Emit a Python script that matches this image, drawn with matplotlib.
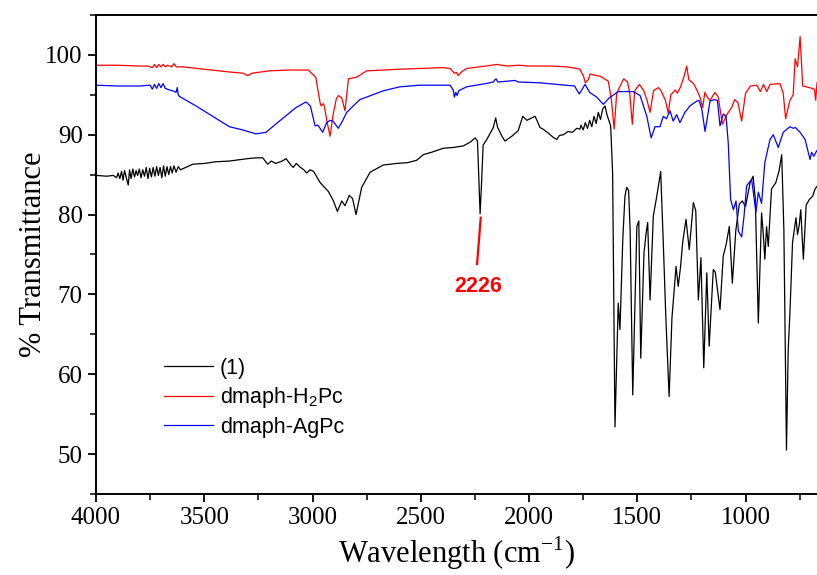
import matplotlib
matplotlib.use("Agg")
import matplotlib.pyplot as plt
from matplotlib.ticker import MultipleLocator

plt.rcParams["font.family"] = "Liberation Serif"
plt.rcParams["mathtext.fontset"] = "custom"
plt.rcParams["mathtext.rm"] = "Liberation Serif"
plt.rcParams["mathtext.sf"] = "Liberation Sans"

# ---- compound (1) --------------------------------------------------------
wn_1 = [4000, 3950, 3920, 3905, 3898, 3890, 3882, 3875, 3868, 3860, 3851, 3845,
        3838, 3830, 3822, 3815, 3808, 3800, 3792, 3784, 3776, 3768, 3760, 3752,
        3744, 3736, 3728, 3720, 3712, 3704, 3696, 3688, 3680, 3672, 3664, 3656,
        3648, 3640, 3630, 3620, 3610, 3553, 3500, 3450, 3384, 3300, 3261, 3230,
        3207, 3190, 3170, 3140, 3122, 3100, 3089, 3075, 3060, 3040, 3027, 3012,
        2995, 2965, 2927, 2905, 2885, 2865, 2850, 2830, 2815, 2799, 2773, 2734,
        2673, 2611, 2560, 2519, 2488, 2450, 2396, 2350, 2303, 2270, 2249, 2238,
        2230, 2226, 2220, 2212, 2195, 2165, 2154, 2145, 2125, 2111, 2080, 2050,
        2029, 2010, 1995, 1972, 1949, 1930, 1911, 1890, 1872, 1860, 1841, 1820,
        1800, 1780, 1765, 1760, 1750, 1740, 1730, 1720, 1710, 1700, 1690, 1680,
        1670, 1660, 1649, 1640, 1623, 1614, 1603, 1588, 1580, 1567, 1557, 1549,
        1540, 1533, 1521, 1502, 1493, 1484, 1469, 1460, 1452, 1441, 1426, 1410,
        1392, 1380, 1368, 1353, 1340, 1321, 1311, 1300, 1290, 1275, 1260, 1241,
        1230, 1218, 1206, 1193, 1179, 1168, 1149, 1140, 1118, 1103, 1090, 1075,
        1061, 1045, 1029, 1015, 1000, 979, 965, 955, 941, 926, 918, 911, 903, 895,
        880, 860, 845, 833, 823, 817, 811, 803, 795, 783, 767, 760, 752, 745, 733,
        720, 705, 690, 679, 671]
t_1 = [84.9, 84.8, 84.9, 84.6, 85.2, 84.5, 85.4, 84.3, 85.5, 84.6, 83.7, 85.6,
       84.5, 85.7, 84.7, 85.5, 84.9, 85.7, 84.6, 85.6, 84.8, 85.9, 84.5, 85.8,
       84.7, 85.9, 84.8, 86.0, 84.9, 85.9, 84.6, 86.1, 84.8, 86.0, 85.0, 86.0,
       85.2, 86.1, 85.3, 86.0, 85.6, 86.3, 86.4, 86.6, 86.7, 87.0, 87.1, 87.1,
       86.3, 86.7, 86.4, 86.7, 87.0, 86.2, 85.9, 86.4, 86.0, 85.6, 85.2, 85.6,
       85.4, 84.0, 82.9, 81.8, 80.4, 81.7, 81.1, 82.4, 82.0, 80.0, 83.4, 85.3,
       86.2, 86.4, 86.5, 86.8, 87.5, 87.8, 88.3, 88.4, 88.6, 89.1, 89.6, 89.2,
       83.0, 80.1, 83.5, 88.7, 89.4, 90.9, 92.1, 90.9, 89.8, 89.2, 89.8, 90.5,
       92.3, 91.8, 92.0, 92.3, 90.9, 90.6, 90.2, 89.7, 89.4, 89.9, 90.0, 90.4,
       90.3, 90.8, 90.7, 91.2, 90.6, 91.5, 90.8, 91.8, 91.0, 92.3, 91.4, 92.8,
       91.9, 93.2, 93.6, 92.5, 91.1, 85.2, 53.4, 68.9, 65.6, 76.9, 82.3, 83.4,
       83.0, 78.0, 57.4, 78.5, 79.2, 62.0, 75.2, 77.5, 79.0, 69.3, 79.8, 82.3,
       85.4, 76.5, 67.0, 57.2, 67.0, 73.5, 71.0, 73.5, 76.6, 79.4, 75.6, 81.5,
       80.5, 69.3, 74.6, 60.8, 72.7, 63.5, 73.1, 72.8, 68.1, 74.8, 76.2, 78.5,
       71.4, 78.0, 81.3, 81.7, 81.0, 84.0, 84.8, 82.0, 66.4, 80.2, 77.5, 74.4,
       78.5, 76.0, 83.2, 84.0, 85.5, 87.5, 78.1, 63.9, 50.5, 63.1, 67.7, 76.5,
       79.6, 77.5, 78.7, 80.6, 74.4, 81.2, 81.9, 82.3, 83.2, 83.5]

# ---- dmaph-H2Pc ----------------------------------------------------------
wn_h2 = [4000, 3900, 3800, 3760, 3740, 3730, 3720, 3710, 3700, 3690, 3680, 3670,
         3650, 3640, 3630, 3600, 3500, 3400, 3320, 3300, 3280, 3200, 3100, 3020,
         2985, 2965, 2960, 2950, 2945, 2932, 2919, 2905, 2890, 2880, 2865, 2850,
         2840, 2834, 2796, 2750, 2600, 2500, 2400, 2365, 2345, 2335, 2327, 2310,
         2288, 2200, 2149, 2100, 2050, 2000, 1900, 1826, 1780, 1765, 1748, 1740,
         1726, 1718, 1670, 1634, 1620, 1607, 1595, 1563, 1545, 1535, 1523, 1512,
         1490, 1470, 1455, 1441, 1425, 1403, 1390, 1370, 1357, 1345, 1325, 1315,
         1300, 1283, 1272, 1262, 1240, 1225, 1210, 1198, 1188, 1177, 1164, 1141,
         1126, 1107, 1087, 1064, 1050, 1035, 1018, 1000, 977, 948, 932, 917, 902,
         887, 841, 826, 815, 795, 780, 771, 760, 748, 736, 705, 682, 676, 670]
t_h2 = [98.7, 98.7, 98.6, 98.6, 98.4, 98.8, 98.4, 98.8, 98.5, 98.8, 98.5, 98.7,
        98.5, 98.9, 98.5, 98.5, 98.2, 97.9, 97.7, 97.4, 97.7, 98.0, 98.1, 98.1,
        97.2, 94.0, 93.6, 93.9, 93.5, 91.5, 89.8, 92.5, 94.5, 94.9, 94.6, 93.0,
        95.5, 97.0, 97.2, 98.0, 98.2, 98.3, 98.4, 98.3, 97.7, 97.8, 97.4, 97.9,
        98.3, 98.6, 98.8, 98.6, 98.7, 98.6, 98.6, 98.5, 98.3, 98.2, 97.3, 96.5,
        96.9, 97.6, 97.3, 96.7, 94.5, 90.7, 95.2, 97.0, 96.6, 95.2, 91.3, 95.5,
        96.3, 95.5, 94.3, 92.8, 95.5, 95.9, 95.5, 94.3, 92.7, 95.0, 95.6, 95.2,
        96.0, 97.4, 98.6, 96.9, 96.4, 95.6, 94.7, 93.4, 95.3, 94.7, 94.3, 95.3,
        94.7, 91.3, 92.5, 93.4, 94.4, 94.0, 91.7, 95.2, 96.1, 96.2, 95.4, 96.3,
        95.4, 96.3, 96.4, 95.2, 92.0, 94.3, 95.0, 99.5, 98.5, 102.3, 96.1, 95.9,
        95.7, 94.3, 96.5]

# ---- dmaph-AgPc ----------------------------------------------------------
wn_ag = [4000, 3900, 3800, 3750, 3740, 3730, 3720, 3710, 3700, 3690, 3680, 3660,
         3646, 3630, 3625, 3620, 3615, 3538, 3461, 3384, 3323, 3261, 3215, 3153,
         3076, 3030, 3010, 2988, 2975, 2953, 2935, 2919, 2905, 2881, 2860, 2842,
         2781, 2673, 2596, 2504, 2365, 2350, 2345, 2338, 2332, 2325, 2288, 2200,
         2165, 2157, 2152, 2145, 2100, 2065, 2050, 1950, 1790, 1768, 1741, 1720,
         1687, 1657, 1630, 1588, 1518, 1487, 1456, 1436, 1418, 1395, 1380, 1365,
         1349, 1334, 1318, 1303, 1280, 1257, 1226, 1215, 1202, 1187, 1164, 1145,
         1130, 1118, 1103, 1090, 1080, 1069, 1056, 1044, 1033, 1018, 1007, 995,
         972, 952, 941, 926, 911, 887, 872, 849, 826, 795, 780, 770, 748, 725,
         702, 695, 685, 671]
t_ag = [96.2, 96.1, 96.1, 96.2, 95.7, 96.3, 95.8, 96.4, 95.9, 96.4, 95.8, 95.6,
        95.5, 95.3, 95.9, 95.0, 94.8, 93.6, 92.3, 91.0, 90.6, 90.1, 90.3, 91.7,
        93.4, 94.1, 93.6, 91.1, 91.2, 90.3, 91.5, 91.8, 91.7, 90.8, 91.8, 92.8,
        94.4, 95.5, 96.0, 96.2, 96.2, 95.6, 94.7, 95.3, 94.9, 95.5, 96.0, 96.4,
        96.6, 96.9, 97.0, 96.6, 96.7, 96.8, 96.6, 96.5, 96.1, 95.1, 96.3, 95.3,
        94.7, 93.8, 94.6, 95.4, 95.4, 94.9, 92.3, 89.6, 91.0, 91.0, 92.3, 92.0,
        93.0, 91.7, 92.5, 91.5, 92.8, 93.6, 94.2, 94.3, 93.2, 90.4, 94.2, 94.4,
        94.3, 91.1, 92.6, 92.3, 89.0, 81.9, 80.6, 81.7, 77.9, 77.2, 79.8, 83.6,
        84.4, 80.3, 82.8, 81.4, 86.5, 89.4, 90.0, 88.4, 90.3, 91.0, 90.8, 90.9,
        90.3, 89.4, 86.9, 87.8, 87.3, 88.0]

peak_wn = 2226
peak_label = "2226"

fig = plt.figure(figsize=(8.17, 5.75), dpi=100)
ax = fig.add_axes([0.1175, 0.141, 0.8825, 0.833])

ax.plot(wn_1, t_1, color="black", lw=0.9, label="(1)")
ax.plot(wn_h2, t_h2, color="#ff0000", lw=0.9, label="dmaph-H$_\\mathsf{2}$Pc")
ax.plot(wn_ag, t_ag, color="#0000ff", lw=0.9, label="dmaph-AgPc")

# marker for the nitrile band
ax.plot([peak_wn - 3, peak_wn + 14], [79.6, 73.8], color="#ff0000", lw=1.6)
ax.text(peak_wn + 11, 70.26, peak_label, color="#ff0000", fontsize=15.5,
        fontweight="bold", family="Liberation Sans", ha="center", va="baseline")

ax.set_xlim(4000, 670)
ax.set_ylim(45, 105)
ax.xaxis.set_major_locator(MultipleLocator(500))
ax.xaxis.set_minor_locator(MultipleLocator(250))
ax.yaxis.set_major_locator(MultipleLocator(10))
ax.yaxis.set_minor_locator(MultipleLocator(5))
ax.tick_params(which="major", direction="out", length=6, width=1.3, labelsize=18)
ax.tick_params(which="minor", direction="out", length=4, width=1.1)
for s in ["left", "bottom", "top"]:
    ax.spines[s].set_linewidth(1.4)
ax.spines["right"].set_visible(False)

ax.set_xlabel("Wavelength (cm$^{\\mathrm{-1}}$)", fontsize=22, labelpad=4)
ax.set_ylabel("% Transmittance", fontsize=22, labelpad=-2)

ax.legend(loc="upper left", bbox_to_anchor=(0.082, 0.302), frameon=False,
          prop={"family": "Liberation Sans", "size": 15.5}, handlelength=2.3,
          handletextpad=0.3, labelspacing=0.3, borderaxespad=0)

fig.savefig("out.png", dpi=100)
